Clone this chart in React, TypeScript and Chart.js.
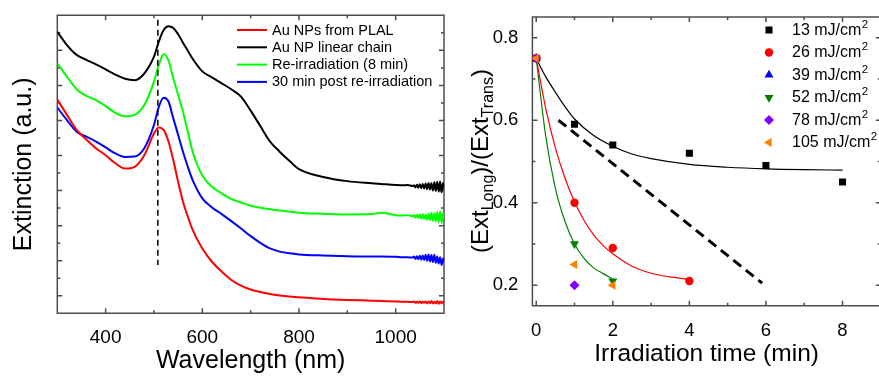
import React, { useEffect, useRef } from 'react';
import { Chart, registerables } from 'chart.js';
import { drawPoint } from 'chart.js/helpers';

Chart.register(...registerables);

const FONT = '"Liberation Sans", Arial, Helvetica, sans-serif';

// ---------------- Left panel: extinction spectra ----------------
const wavelengths = [
  300, 320, 340, 360, 380, 400, 420, 440, 460, 480,
  500, 510, 520, 530, 540, 550, 560, 570, 580,
  600, 620, 640, 660, 680, 700, 720, 740, 760, 780, 800,
  850, 900, 950, 970, 1000, 1015, 1025, 1035,
  1038, 1041, 1044, 1047, 1050, 1053, 1056, 1059, 1062, 1065, 1068,
  1071, 1074, 1077, 1080, 1083, 1086, 1089, 1092, 1095, 1098, 1100,
];
const extPLAL = [
  6.60, 6.16, 5.73, 5.46, 5.21, 5.01, 4.78, 4.63, 4.68, 5.01,
  5.63, 5.80, 5.73, 5.40, 4.87, 4.25, 3.68, 3.26, 2.88,
  2.35, 1.97, 1.69, 1.45, 1.29, 1.18, 1.11, 1.05, 1.01, 0.98, 0.96,
  0.91, 0.88, 0.86, 0.85, 0.84, 0.83, 0.83, 0.82,
  0.84, 0.80, 0.83, 0.80, 0.84, 0.79, 0.83, 0.80, 0.84, 0.78, 0.84,
  0.79, 0.85, 0.78, 0.83, 0.78, 0.85, 0.77, 0.84, 0.78, 0.83, 0.80,
];
const extChain = [
  8.53, 8.15, 7.87, 7.73, 7.60, 7.46, 7.31, 7.19, 7.15, 7.34,
  7.82, 8.25, 8.58, 8.69, 8.64, 8.46, 8.22, 7.99, 7.76,
  7.40, 7.23, 7.06, 6.89, 6.68, 6.28, 5.84, 5.40, 5.11, 4.85, 4.61,
  4.39, 4.27, 4.21, 4.19, 4.16, 4.15, 4.16, 4.13,
  4.15, 4.09, 4.17, 4.08, 4.18, 4.07, 4.19, 4.06, 4.20, 4.04, 4.22,
  4.03, 4.21, 4.00, 4.24, 3.99, 4.25, 3.97, 4.26, 3.95, 4.22, 4.05,
];
const extReirr = [
  7.63, 7.25, 6.89, 6.70, 6.58, 6.41, 6.22, 6.12, 6.16, 6.44,
  7.11, 7.58, 7.89, 7.71, 7.20, 6.73, 6.25, 5.68, 5.11,
  4.43, 4.11, 3.92, 3.76, 3.66, 3.57, 3.51, 3.47, 3.43, 3.40, 3.37,
  3.34, 3.32, 3.33, 3.37, 3.30, 3.29, 3.30, 3.27,
  3.30, 3.23, 3.31, 3.22, 3.32, 3.20, 3.33, 3.19, 3.31, 3.17, 3.34,
  3.16, 3.36, 3.14, 3.35, 3.12, 3.38, 3.10, 3.40, 3.08, 3.36, 3.18,
];
const extPost = [
  6.37, 6.01, 5.68, 5.54, 5.40, 5.23, 5.06, 4.96, 4.97, 5.21,
  5.87, 6.39, 6.65, 6.54, 6.06, 5.59, 5.11, 4.68, 4.30,
  3.78, 3.52, 3.33, 3.13, 2.92, 2.70, 2.51, 2.35, 2.26, 2.21, 2.18,
  2.15, 2.13, 2.12, 2.12, 2.11, 2.10, 2.10, 2.09,
  2.12, 2.05, 2.13, 2.04, 2.14, 2.03, 2.15, 2.02, 2.17, 2.00, 2.18,
  1.98, 2.16, 1.96, 2.17, 1.94, 2.12, 1.92, 2.10, 1.88, 2.06, 1.95,
];
const spectraLabels = ['Au NPs from PLAL', 'Au NP linear chain', 'Re-irradiation (8 min)', '30 min post re-irradiation'];
const spectraColors = ['#ff0000', '#000000', '#00ff00', '#0000ff'];
const markerWavelength = [508, 508];
const markerExt = [8.87, 1.88];
const wlMajorTicks = [400, 600, 800, 1000];
const wlMinorTicks = [300, 500, 700, 900, 1100];
const extMajorTicks = [1, 2, 3, 4, 5, 6, 7, 8];
const extMinorTicks = [0.5, 1.5, 2.5, 3.5, 4.5, 5.5, 6.5, 7.5, 8.5];

// ---------------- Right panel: aspect ratio vs irradiation time ----------------
const fluenceLabels = ['13 mJ/cm²', '26 mJ/cm²', '39 mJ/cm²', '52 mJ/cm²', '78 mJ/cm²', '105 mJ/cm²'];
const fluenceColors = ['#000000', '#ff0000', '#0000ff', '#008000', '#8000ff', '#ff8000'];
const time13 = [0, 1, 2, 4, 6, 8];
const ratio13 = [0.75, 0.59, 0.54, 0.52, 0.49, 0.45];
const time26 = [0, 1, 2, 4];
const ratio26 = [0.75, 0.40, 0.29, 0.21];
const time39 = [0];
const ratio39 = [0.75];
const time52 = [0, 1, 2];
const ratio52 = [0.75, 0.30, 0.21];
const time78 = [0, 1];
const ratio78 = [0.75, 0.20];
const time105 = [0, 1, 2];
const ratio105 = [0.75, 0.25, 0.20];

const fitTime13 = [0, 0.25, 0.5, 0.75, 1, 1.5, 2, 2.5, 3, 4, 5, 6, 7, 8];
const fitRatio13 = [0.75, 0.705, 0.668, 0.633, 0.603, 0.563, 0.537, 0.518, 0.507, 0.493, 0.486, 0.482, 0.480, 0.479];
const fitTime26 = [0, 0.25, 0.5, 0.75, 1, 1.25, 1.5, 1.75, 2, 2.5, 3, 3.5, 4];
const fitRatio26 = [0.75, 0.628, 0.533, 0.460, 0.402, 0.357, 0.322, 0.296, 0.276, 0.246, 0.229, 0.220, 0.214];
const fitTime52 = [0, 0.25, 0.5, 0.75, 1, 1.25, 1.5, 1.75, 2];
const fitRatio52 = [0.75, 0.56, 0.435, 0.355, 0.30, 0.265, 0.242, 0.228, 0.215];
const trendTime = [0.58, 5.9];
const trendRatio = [0.60, 0.205];

const timeMajorTicks = [0, 2, 4, 6, 8];
const timeMinorTicks = [1, 3, 5, 7];
const ratioMajorTicks = [0.2, 0.4, 0.6, 0.8];
const ratioMinorTicks = [0.3, 0.5, 0.7];
const ratioTitleParts: [string, boolean][] = [['(Ext', false], ['Long', true], [')/(Ext', false], ['Trans', true], [')', false]];

const pts = (xs: number[], ys: number[]) => xs.map((x, i) => ({ x, y: ys[i] }));

function makeFramePlugin(cfg: { xMajor: number[]; xMinor: number[]; yMajor: number[]; yMinor: number[] }) {
  return {
    id: 'frameTicks',
    beforeDatasetsDraw(chart: any) {
      const { ctx, chartArea: a } = chart;
      const xs = chart.scales.x;
      const ys = chart.scales.y;
      ctx.save();
      ctx.strokeStyle = '#4d4d4d';
      ctx.lineWidth = 1.5;
      ctx.beginPath();
      ctx.rect(a.left, a.top, a.right - a.left, a.bottom - a.top);
      const xt = (vals: number[], len: number) => {
        for (const v of vals) {
          const p = xs.getPixelForValue(v);
          ctx.moveTo(p, a.bottom); ctx.lineTo(p, a.bottom - len);
          ctx.moveTo(p, a.top); ctx.lineTo(p, a.top + len);
        }
      };
      const yt = (vals: number[], len: number) => {
        for (const v of vals) {
          const p = ys.getPixelForValue(v);
          ctx.moveTo(a.left, p); ctx.lineTo(a.left + len, p);
          ctx.moveTo(a.right, p); ctx.lineTo(a.right - len, p);
        }
      };
      xt(cfg.xMajor, 5); xt(cfg.xMinor, 3);
      yt(cfg.yMajor, 5); yt(cfg.yMinor, 3);
      ctx.stroke();
      ctx.restore();
    },
  };
}

const spectraLegendPlugin = {
  id: 'spectraLegend',
  afterDraw(chart: any) {
    const { ctx } = chart;
    ctx.save();
    ctx.font = `14.5px ${FONT}`;
    ctx.textBaseline = 'middle';
    ctx.textAlign = 'left';
    let row = 0;
    chart.data.datasets.forEach((ds: any) => {
      if (!ds.label) return;
      const y = 30 + row * 17.3;
      ctx.strokeStyle = ds.borderColor;
      ctx.lineWidth = 2;
      ctx.beginPath();
      ctx.moveTo(237, y); ctx.lineTo(267, y);
      ctx.stroke();
      ctx.fillStyle = '#000';
      ctx.fillText(ds.label, 272, y + 0.5);
      row++;
    });
    ctx.restore();
  },
};

// draws a label, rendering a trailing "²" as a raised, smaller "2"
function drawSupLabel(ctx: any, label: string, x: number, y: number) {
  const sup = label.endsWith('²');
  const base = sup ? label.slice(0, -1) : label;
  ctx.font = `16px ${FONT}`;
  ctx.fillText(base, x, y);
  if (sup) {
    const w = ctx.measureText(base).width;
    ctx.font = `11.5px ${FONT}`;
    ctx.fillText('2', x + w + 0.5, y - 6);
  }
}

const fluenceLegendPlugin = {
  id: 'fluenceLegend',
  afterDraw(chart: any) {
    const { ctx } = chart;
    ctx.save();
    ctx.textBaseline = 'middle';
    ctx.textAlign = 'left';
    let row = 0;
    chart.data.datasets.forEach((ds: any) => {
      if (!ds.label) return;
      const y = 30 + row * 22.5;
      const x = 769 - 450;
      ctx.fillStyle = ds.pointBackgroundColor;
      ctx.strokeStyle = ds.pointBackgroundColor;
      drawPoint(ctx, { pointStyle: ds.pointStyle, rotation: ds.pointRotation || 0, radius: ds.pointRadius, borderWidth: 0 }, x, y);
      ctx.fillStyle = '#000';
      drawSupLabel(ctx, ds.label, 792 - 450, y + 0.5);
      row++;
    });
    ctx.restore();
  },
};

const ratioTitlePlugin = {
  id: 'ratioTitle',
  afterDraw(chart: any) {
    const { ctx } = chart;
    const big = `24px ${FONT}`;
    const small = `16px ${FONT}`;
    ctx.save();
    const widths = ratioTitleParts.map(([t, sub]) => { ctx.font = sub ? small : big; return ctx.measureText(t).width; });
    const total = widths.reduce((s, w) => s + w, 0);
    ctx.translate(38.3, 161);
    ctx.rotate(-Math.PI / 2);
    ctx.fillStyle = '#000';
    ctx.textBaseline = 'alphabetic';
    ctx.textAlign = 'left';
    let x = -total / 2;
    ratioTitleParts.forEach(([t, sub], i) => {
      ctx.font = sub ? small : big;
      ctx.fillText(t, x, sub ? 5 : 0);
      x += widths[i];
    });
    ctx.restore();
  },
};

function leftConfig(): any {
  const series = [extPLAL, extChain, extReirr, extPost];
  return {
    type: 'scatter',
    data: {
      datasets: [
        ...series.map((s, i) => ({
          label: spectraLabels[i],
          data: pts(wavelengths, s),
          showLine: true,
          borderColor: spectraColors[i],
          backgroundColor: spectraColors[i],
          borderWidth: 2,
          pointRadius: 0,
          cubicInterpolationMode: 'monotone',
          order: 1,
        })),
        {
          label: '',
          data: pts(markerWavelength, markerExt),
          showLine: true,
          borderColor: '#000000',
          borderWidth: 1.5,
          borderDash: [6, 4],
          pointRadius: 0,
          order: 0,
        },
      ],
    },
    options: {
      responsive: false,
      animation: false,
      events: [],
      devicePixelRatio: 1,
      layout: { padding: { left: 0, right: 6, top: 15.3, bottom: 0 } },
      plugins: { legend: { display: false }, tooltip: { enabled: false } },
      scales: {
        x: {
          type: 'linear', min: 300, max: 1100,
          grid: { display: false }, border: { display: false },
          afterBuildTicks: (s: any) => { s.ticks = wlMajorTicks.map((v) => ({ value: v })); },
          afterFit: (s: any) => { s.height = 62.7; },
          ticks: { font: { family: FONT, size: 19 }, color: '#000', padding: 5, maxRotation: 0, autoSkip: false, callback: (v: any) => String(v) },
          title: { display: true, text: 'Wavelength (nm)', font: { family: FONT, size: 25 }, color: '#000', padding: { top: 0, bottom: 0 } },
        },
        y: {
          type: 'linear', min: 0.5, max: 9,
          grid: { display: false }, border: { display: false },
          ticks: { display: false },
          afterFit: (s: any) => { s.width = 57.3; },
          title: { display: true, text: 'Extinction (a.u.)', font: { family: FONT, size: 25 }, color: '#000', padding: { top: 9.5, bottom: 0 } },
        },
      },
    },
    plugins: [makeFramePlugin({ xMajor: wlMajorTicks, xMinor: wlMinorTicks, yMajor: extMajorTicks, yMinor: extMinorTicks }), spectraLegendPlugin],
  };
}

function rightConfig(): any {
  const markerTimes = [time13, time26, time39, time52, time78, time105];
  const markerRatios = [ratio13, ratio26, ratio39, ratio52, ratio78, ratio105];
  const styles = ['rect', 'circle', 'triangle', 'triangle', 'rectRot', 'triangle'];
  const rotations = [0, 0, 0, 180, 0, -90];
  const radii = [5, 4.2, 5.2, 5.2, 5, 5.2];
  const orders = [5, 4, 3, 2, 1, 0];
  const markerSets = markerTimes.map((t, i) => ({
    label: fluenceLabels[i],
    data: pts(t, markerRatios[i]),
    showLine: false,
    pointStyle: styles[i],
    pointRotation: rotations[i],
    pointRadius: radii[i],
    pointBackgroundColor: fluenceColors[i],
    pointBorderColor: fluenceColors[i],
    pointBorderWidth: 0,
    order: orders[i],
  }));
  const fit = (t: number[], r: number[], color: string) => ({
    label: '',
    data: pts(t, r),
    showLine: true,
    borderColor: color,
    borderWidth: 1.2,
    pointRadius: 0,
    cubicInterpolationMode: 'monotone',
    order: 10,
  });
  return {
    type: 'scatter',
    data: {
      datasets: [
        ...markerSets,
        fit(fitTime13, fitRatio13, '#000000'),
        fit(fitTime26, fitRatio26, '#ff0000'),
        fit(fitTime52, fitRatio52, '#008000'),
        {
          label: '',
          data: pts(trendTime, trendRatio),
          showLine: true,
          borderColor: '#000000',
          borderWidth: 3,
          borderDash: [10, 6],
          pointRadius: 0,
          order: 9,
        },
      ],
    },
    options: {
      responsive: false,
      animation: false,
      events: [],
      devicePixelRatio: 1,
      layout: { padding: { left: 0, right: 2.7, top: 14.9, bottom: 0 } },
      plugins: { legend: { display: false }, tooltip: { enabled: false } },
      scales: {
        x: {
          type: 'linear', min: -0.1, max: 9,
          grid: { display: false }, border: { display: false },
          afterBuildTicks: (s: any) => { s.ticks = timeMajorTicks.map((v) => ({ value: v })); },
          afterFit: (s: any) => { s.height = 70.2; },
          ticks: { font: { family: FONT, size: 18.5 }, color: '#000', padding: 6, maxRotation: 0, autoSkip: false, callback: (v: any) => String(v) },
          title: { display: true, text: 'Irradiation time (min)', font: { family: FONT, size: 24.5 }, color: '#000', padding: { top: 0, bottom: 7.3 } },
        },
        y: {
          type: 'linear', min: 0.15, max: 0.85,
          grid: { display: false }, border: { display: false },
          afterBuildTicks: (s: any) => { s.ticks = ratioMajorTicks.map((v) => ({ value: v })); },
          afterFit: (s: any) => { s.width = 82.4; },
          ticks: { font: { family: FONT, size: 18.5 }, color: '#000', padding: 6, autoSkip: false, callback: (v: any) => Number(v).toFixed(1) },
          title: { display: false },
        },
      },
    },
    plugins: [makeFramePlugin({ xMajor: timeMajorTicks, xMinor: timeMinorTicks, yMajor: ratioMajorTicks, yMinor: ratioMinorTicks }), fluenceLegendPlugin, ratioTitlePlugin],
  };
}

export default function App() {
  const leftRef = useRef<HTMLCanvasElement>(null);
  const rightRef = useRef<HTMLCanvasElement>(null);
  useEffect(() => {
    const a = new Chart(leftRef.current as HTMLCanvasElement, leftConfig());
    const b = new Chart(rightRef.current as HTMLCanvasElement, rightConfig());
    return () => {
      a.destroy();
      b.destroy();
    };
  }, []);
  return (
    <div style={{ position: 'fixed', left: 0, top: 0, width: 879, height: 376, overflow: 'hidden', background: '#ffffff' }}>
      <canvas ref={leftRef} width={450} height={376} style={{ position: 'absolute', left: 0, top: 0, width: 450, height: 376 }} />
      <canvas ref={rightRef} width={436} height={376} style={{ position: 'absolute', left: 450, top: 0, width: 436, height: 376 }} />
    </div>
  );
}
